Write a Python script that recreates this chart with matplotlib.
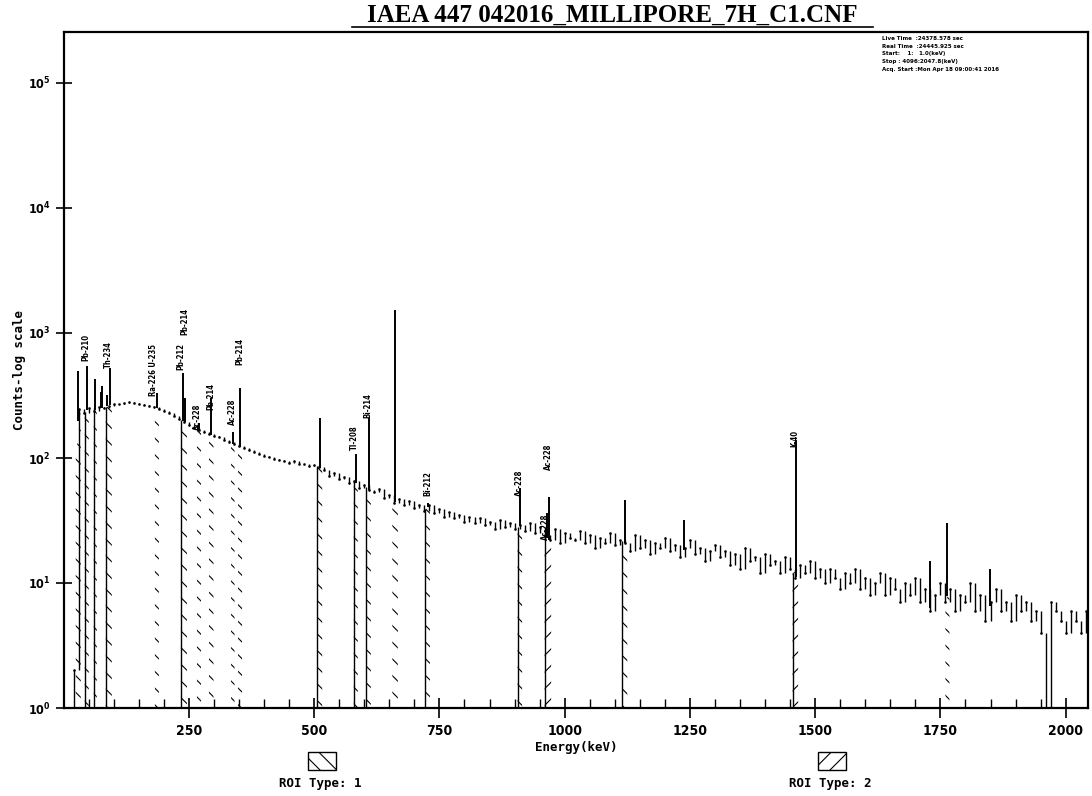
import numpy as np
import matplotlib.pyplot as plt
from matplotlib.ticker import MultipleLocator, FixedLocator, NullLocator
from matplotlib.patches import Rectangle
from matplotlib.lines import Line2D

plt.rcParams['hatch.linewidth'] = 0.8

# continuum, every 10 keV from 20 to 2040 keV
bg_energy = np.arange(20, 2050, 10)
bg_counts = np.array([
    2, 245, 228, 252, 236, 256, 250, 262, 268, 272,
    276, 280, 277, 271, 266, 262, 255, 248, 238, 228,
    218, 206, 195, 184, 175, 168, 162, 156, 150, 146,
    140, 135, 129, 124, 120, 116, 112, 108, 104, 101,
    99, 96, 95, 92, 94, 89, 90, 86, 88, 84,
    80, 72, 76, 68, 70, 63, 66, 58, 61, 55,
    53, 56, 48, 51, 44, 47, 42, 45, 40, 42,
    38, 42, 36, 39, 34, 37, 33, 35, 31, 34,
    30, 33, 29, 31, 27, 32, 28, 30, 27, 29,
    26, 30, 25, 28, 24, 22, 27, 21, 25, 23,
    22, 26, 21, 24, 19, 23, 21, 25, 20, 22,
    21, 18, 24, 19, 22, 17, 21, 19, 23, 18,
    20, 16, 19, 22, 17, 19, 15, 18, 20, 16,
    18, 14, 17, 13, 19, 15, 16, 12, 17, 14,
    15, 12, 16, 13, 11, 14, 12, 15, 11, 13,
    10, 13, 11, 9, 12, 10, 13, 9, 11, 8,
    10, 12, 8, 11, 9, 7, 10, 8, 11, 7,
    9, 6, 8, 10, 7, 9, 6, 8, 7, 10,
    6, 8, 5, 7, 9, 6, 7, 5, 8, 6,
    7, 5, 6, 4, 1, 7, 6, 5, 4, 6,
    5, 4, 6,
])

# peaks (keV, counts at top)
peak_energy = [28, 46.5, 63.3, 75, 77, 87, 92.6, 186, 238.6, 242, 270, 295, 338, 352,
               511, 583, 609, 661.6, 727, 911, 964.8, 969, 1120, 1238, 1460.8, 1729, 1764, 1848]
peak_counts = [500, 540, 430, 340, 380, 320, 520, 330, 480, 300, 190, 300, 160, 360,
               210, 108, 208, 1530, 44, 58, 36, 49, 46, 32, 140, 15, 30, 13]

# nuclide labels
label_text = ['Pb-210', 'Th-234', 'Ra-226 U-235', 'Pb-212', 'Pb-214', 'Ac-228', 'Pb-214',
              'Ac-228', 'Pb-214', 'Tl-208', 'Bi-214', 'Bi-212', 'Ac-228', 'Ac-228',
              'Ac-228', 'K-40']
label_energy = [44, 89, 180, 234, 242, 267, 293, 336, 352, 580, 608, 726, 910, 962, 967, 1459]
label_base = [600, 525, 316, 510, 960, 167, 243, 183, 552, 116, 208, 50, 50, 22, 80, 122]

# regions of interest (start keV, end keV, type, solid edge)
roi_start = [24, 42, 60, 84, 182, 234, 266, 290, 334, 348, 506, 579, 604, 656, 722, 906, 960, 1115, 1455, 1760]
roi_end = [34, 50, 66, 96, 190, 246, 274, 299, 341, 356, 516, 587, 613, 667, 731, 915, 973, 1125, 1466, 1768]
roi_type = [1, 1, 1, 1, 1, 1, 1, 1, 1, 1, 1, 1, 1, 1, 1, 1, 2, 1, 2, 1]
roi_solid = [False, True, True, True, False, True, False, False, False, False, True, True, True,
             False, True, True, True, True, True, False]

info_lines = ['Live Time  :24378.578 sec',
              'Real Time  :24445.925 sec',
              'Start:    1:   1.0(keV)',
              'Stop : 4096:2047.8(keV)',
              'Acq. Start :Mon Apr 18 09:00:41 2016']

fig = plt.figure(figsize=(10.92, 7.96), dpi=100)
W, H = 1092, 796
ax = fig.add_axes([64 / W, 1 - 708 / H, (1088 - 64) / W, (708 - 32) / H])
ax.set_yscale('log')
ax.set_ylim(1, 10 ** ((708 - 32) / 125))
ax.set_xlim(0.6, 2044.6)

# ROIs
for s, e, t, solid in zip(roi_start, roi_end, roi_type, roi_solid):
    xs = np.array([s, e])
    top = np.interp(xs, bg_energy, bg_counts)
    ax.fill_between(xs, 1, top, facecolor='none', edgecolor='k', linewidth=0,
                    hatch='\\\\' if t == 1 else '//')
    if solid:
        ax.vlines([s], 1, np.interp(s, bg_energy, bg_counts), color='k', lw=1)

# spectrum
prev = np.concatenate([[1], bg_counts[:-1]])
ax.vlines(bg_energy, np.minimum(prev, bg_counts), np.maximum(prev, bg_counts), color='k', lw=1)
ax.plot(bg_energy, bg_counts, ls='none', marker='s', ms=0.8, color='k')

base = np.interp(peak_energy, bg_energy, bg_counts)
ax.vlines(peak_energy, base, peak_counts, color='k', lw=1.4)

for e, txt, b in zip(label_energy, label_text, label_base):
    ax.text(e, b, txt, rotation=90, ha='center', va='bottom', fontsize=5.5,
            fontweight='bold', family='DejaVu Sans', fontstretch='condensed')

# axes styling
for sp in ax.spines.values():
    sp.set_linewidth(1.6)
ax.xaxis.set_major_locator(FixedLocator([250, 500, 750, 1000, 1250, 1500, 1750, 2000]))
ax.xaxis.set_minor_locator(MultipleLocator(50))
ax.tick_params(axis='x', which='major', direction='inout', length=15, width=1.2,
               labelsize=10, pad=4)
ax.tick_params(axis='x', which='minor', direction='in', length=6.5, width=1)
ax.yaxis.set_minor_locator(NullLocator())
ax.tick_params(axis='y', which='major', direction='inout', length=12, width=1.2, labelsize=9)
for lab in ax.get_xticklabels() + ax.get_yticklabels():
    lab.set_fontweight('bold')
    lab.set_fontstretch('condensed')

ax.set_xlabel('Energy(keV)', fontsize=9, fontweight='bold', family='DejaVu Sans Mono', labelpad=2)
fig.text(20 / W, 1 - 370 / H, 'Counts-log scale', rotation=90, ha='center', va='center',
         fontsize=9, fontweight='bold', family='DejaVu Sans Mono')

# title with underline
fig.text(612 / W, 1 - 15 / H, 'IAEA 447 042016_MILLIPORE_7H_C1.CNF', ha='center', va='center',
         fontsize=18, fontweight='bold', family='Liberation Serif')
fig.add_artist(Line2D([352 / W, 873 / W], [1 - 27 / H, 1 - 27 / H], color='k', lw=1.2))

# acquisition info
for i, line in enumerate(info_lines):
    fig.text(882 / W, 1 - (38 + 8 * i) / H, line, ha='left', va='center', fontsize=4.4,
             fontweight='bold', family='DejaVu Sans', fontstretch='condensed')

# ROI type legend
for x0, t, lab in [(308, '\\\\', 'ROI Type: 1'), (818, '//', 'ROI Type: 2')]:
    fig.add_artist(Rectangle((x0 / W, 1 - 770 / H), 28 / W, 18 / H, transform=fig.transFigure,
                             facecolor='none', edgecolor='k', lw=1, hatch=t))
    fig.text((x0 + 12) / W, 1 - 783 / H, lab, ha='center', va='center', fontsize=9,
             fontweight='bold', family='DejaVu Sans Mono')

fig.savefig('out.png', dpi=100)
